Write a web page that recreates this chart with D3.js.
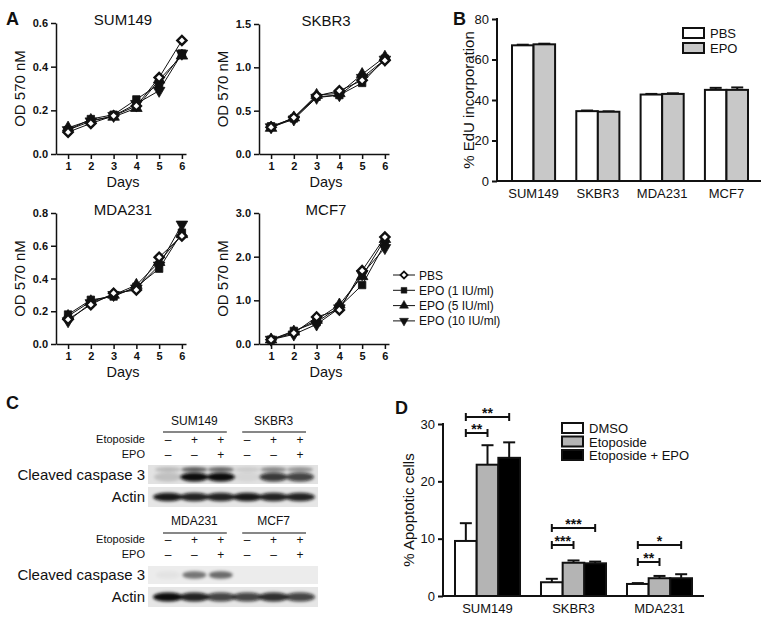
<!DOCTYPE html>
<html><head><meta charset="utf-8">
<script src="https://cdn.jsdelivr.net/npm/d3@7"></script>
<style>body{margin:0;background:#fff} svg{display:block} text{font-family:"Liberation Sans",Arial,Helvetica,sans-serif;fill:#111}</style>
</head><body><svg id="c" width="777" height="622"></svg>
<script>
// ---------- DATA ----------
const days = [1, 2, 3, 4, 5, 6];
const seriesNames = ["PBS", "EPO (1 IU/ml)", "EPO (5 IU/ml)", "EPO (10 IU/ml)"];
// Panel A: OD 570 nM per day, order = PBS, EPO1, EPO5, EPO10
const sum149 = [[0.10,0.14,0.175,0.22,0.35,0.52],[0.11,0.16,0.18,0.25,0.32,0.46],[0.12,0.155,0.17,0.21,0.34,0.45],[0.11,0.15,0.175,0.23,0.29,0.46]];
const skbr3  = [[0.31,0.42,0.67,0.73,0.85,1.08],[0.32,0.41,0.66,0.68,0.82,1.10],[0.30,0.42,0.68,0.70,0.92,1.12],[0.31,0.40,0.65,0.68,0.88,1.09]];
const mda231 = [[0.15,0.24,0.31,0.33,0.53,0.66],[0.18,0.27,0.29,0.35,0.46,0.68],[0.17,0.26,0.30,0.36,0.50,0.67],[0.14,0.25,0.30,0.34,0.48,0.73]];
const mcf7   = [[0.10,0.25,0.62,0.78,1.68,2.45],[0.10,0.30,0.50,0.85,1.35,2.30],[0.10,0.28,0.55,0.90,1.55,2.40],[0.10,0.22,0.45,0.82,1.60,2.20]];
const sum149Ticks = [0.0, 0.2, 0.4, 0.6];
const skbr3Ticks = [0.0, 0.5, 1.0, 1.5];
const mda231Ticks = [0.0, 0.2, 0.4, 0.6, 0.8];
const mcf7Ticks = [0.0, 1.0, 2.0, 3.0];

// Panel B: % EdU incorporation
const cellLinesB = ["SUM149", "SKBR3", "MDA231", "MCF7"];
const edu_PBS = [67.0, 34.5, 42.7, 45.0];
const edu_EPO = [67.5, 34.2, 43.0, 45.0];
const edu_PBS_err = [0.3, 0.3, 0.3, 1.0];
const edu_EPO_err = [0.3, 0.2, 0.3, 1.2];
const eduTicks = [0, 20, 40, 60, 80];

// Panel C: western blot
const blotTop = ["SUM149", "SKBR3"];
const blotBottom = ["MDA231", "MCF7"];
const etoposideRow = ["–", "+", "+", "–", "+", "+"];
const epoRow = ["–", "–", "+", "–", "–", "+"];
const casp1_main = [0.15, 1.0, 1.0, 0.06, 0.8, 0.75];
const casp1_upper = [0.18, 0.6, 0.55, 0.1, 0.4, 0.35];
const actin1 = [0.95, 0.9, 0.9, 0.95, 0.9, 0.9];
const casp2_main = [0.04, 0.5, 0.55, 0.0, 0.0, 0.0];
const actin2 = [1.0, 0.9, 0.75, 0.75, 0.85, 0.75];

// Panel D: % apoptotic cells
const cellLinesD = ["SUM149", "SKBR3", "MDA231"];
const treatD = ["DMSO", "Etoposide", "Etoposide + EPO"];
const apo_DMSO = [9.6, 2.4, 2.1];
const apo_Eto = [22.9, 5.8, 3.1];
const apo_EtoEPO = [24.1, 5.7, 3.1];
const apo_DMSO_err = [3.1, 0.6, 0.15];
const apo_Eto_err = [3.4, 0.4, 0.4];
const apo_EtoEPO_err = [2.7, 0.3, 0.7];
const apoTicks = [0, 10, 20, 30];
// significance: [group, fromBar, toBar, label, level]
const sigs = [[0,0,2,"**",1],[0,0,1,"**",0],[1,0,2,"***",1],[1,0,1,"***",0],[2,0,2,"*",1],[2,0,1,"**",0]];

// ---------- DRAW ----------
const svg = d3.select("#c");
const FONT = '"Liberation Sans",Arial,Helvetica,sans-serif';

function letter(t, x, y) {
  svg.append("text").attr("x", x).attr("y", y).attr("font-size", 18).attr("font-weight", "bold").text(t);
}
letter("A", 6, 25); letter("B", 453, 25); letter("C", 6, 409); letter("D", 395, 414);

const symbolTypes = [d3.symbolSquare, d3.symbolSquare, d3.symbolTriangle, d3.symbolTriangle];
const symbolRot = [45, 0, 0, 180];
const symbolSize = [42, 55, 58, 58];

function linePanel(title, data, ticks, yMax, ax, top, bottom) {
  const g = svg.append("g");
  const x = d3.scaleLinear().domain([0.47, 6.18]).range([ax, ax + 130]);
  const y = d3.scaleLinear().domain([0, yMax]).range([bottom, top]);
  const fmt = d3.format(".1f");
  const ya = g.append("g").attr("transform", `translate(${ax},0)`)
    .call(d3.axisLeft(y).tickValues(ticks).tickSize(5).tickSizeOuter(0).tickFormat(fmt));
  const xa = g.append("g").attr("transform", `translate(0,${bottom})`)
    .call(d3.axisBottom(x).tickValues(days).tickSize(5).tickSizeOuter(0).tickFormat(d3.format("d")));
  [ya, xa].forEach(a => {
    a.selectAll("path,line").attr("stroke", "#111").attr("stroke-width", 1.5);
    a.selectAll("text").attr("font-size", 11).attr("font-weight", "bold").attr("font-family", FONT).attr("fill", "#111");
  });
  xa.selectAll("text").attr("dy", "0.75em");
  const line = d3.line().x((d, i) => x(days[i])).y(d => y(d));
  data.forEach((s, k) => {
    g.append("path").attr("d", line(s)).attr("fill", "none").attr("stroke", "#111").attr("stroke-width", 1);
  });
  [1, 2, 3, 0].forEach(k => {
    const s = data[k];
    g.selectAll(null).data(s).enter().append("path")
      .attr("d", d3.symbol().type(symbolTypes[k]).size(symbolSize[k]))
      .attr("transform", (d, i) => `translate(${x(days[i])},${y(d)}) rotate(${symbolRot[k]})`)
      .attr("fill", k === 0 ? "#fff" : "#111").attr("stroke", "#111").attr("stroke-width", k === 0 ? 2.4 : 0.8);
  });
  g.append("text").attr("x", ax + 67).attr("y", top + 2).attr("text-anchor", "middle").attr("font-size", 15).text(title);
  g.append("text").attr("x", ax + 67).attr("y", bottom + 33).attr("text-anchor", "middle").attr("font-size", 14.5).text("Days");
  g.append("text").attr("transform", `translate(${ax - 31},${(top + bottom) / 2}) rotate(-90)`)
    .attr("text-anchor", "middle").attr("font-size", 15).text("OD 570 nM");
}
linePanel("SUM149", sum149, sum149Ticks, 0.6, 56, 23, 154);
linePanel("SKBR3", skbr3, skbr3Ticks, 1.5, 259, 24, 154);
linePanel("MDA231", mda231, mda231Ticks, 0.8, 56, 213, 344);
linePanel("MCF7", mcf7, mcf7Ticks, 3.0, 259, 213, 344);

// Panel A legend
seriesNames.forEach((n, k) => {
  const yy = 275 + k * 15.3;
  svg.append("line").attr("x1", 393).attr("x2", 415).attr("y1", yy).attr("y2", yy).attr("stroke", "#111").attr("stroke-width", 1);
  svg.append("path").attr("d", d3.symbol().type(symbolTypes[k]).size(symbolSize[k] * 0.6)())
    .attr("transform", `translate(404,${yy}) rotate(${symbolRot[k]})`)
    .attr("fill", k === 0 ? "#fff" : "#111").attr("stroke", "#111").attr("stroke-width", k === 0 ? 1.8 : 0.5);
  svg.append("text").attr("x", 419).attr("y", yy + 4.5).attr("font-size", 12).text(n);
});

// Generic bar panel
function barPanel(opts) {
  const g = svg.append("g");
  const y = d3.scaleLinear().domain([0, opts.yMax]).range([opts.bottom, opts.top]);
  const x0 = d3.scaleBand().domain(opts.cats).range(opts.range).paddingInner(opts.pin).paddingOuter(0);
  const x1 = d3.scaleBand().domain(d3.range(opts.series.length)).range([0, x0.bandwidth()]);
  opts.series.forEach((vals, s) => {
    vals.forEach((v, i) => {
      const bx = x0(opts.cats[i]) + x1(s), bw = x1.bandwidth();
      const e = opts.errs[s][i];
      const cx = bx + bw / 2;
      g.append("line").attr("x1", cx).attr("x2", cx).attr("y1", y(v)).attr("y2", y(v + e)).attr("stroke", "#111").attr("stroke-width", 2);
      g.append("line").attr("x1", cx - 6).attr("x2", cx + 6).attr("y1", y(v + e)).attr("y2", y(v + e)).attr("stroke", "#111").attr("stroke-width", 2);
      g.append("rect").attr("x", bx).attr("y", y(v)).attr("width", bw).attr("height", y(0) - y(v))
        .attr("fill", opts.fills[s]).attr("stroke", "#111").attr("stroke-width", 2);
    });
  });
  const ya = g.append("g").attr("transform", `translate(${opts.ax},0)`)
    .call(d3.axisLeft(y).tickValues(opts.ticks).tickSize(5).tickSizeOuter(0));
  ya.selectAll("path,line").attr("stroke", "#111").attr("stroke-width", 2);
  ya.selectAll("text").attr("font-size", 13).attr("font-family", FONT).attr("fill", "#111");
  ya.select("path").attr("d", `M0,${opts.top - 1}V${opts.bottom + 1}`);
  g.append("line").attr("x1", opts.ax - 1).attr("x2", opts.axEnd).attr("y1", opts.bottom).attr("y2", opts.bottom).attr("stroke", "#111").attr("stroke-width", 2);
  opts.cats.forEach(c => {
    g.append("text").attr("x", x0(c) + x0.bandwidth() / 2).attr("y", opts.bottom + 17).attr("text-anchor", "middle").attr("font-size", 13).text(c);
  });
  g.append("text").attr("transform", `translate(${opts.ax - opts.ylOff},${(opts.top + opts.bottom) / 2}) rotate(-90)`)
    .attr("text-anchor", "middle").attr("font-size", 15).text(opts.ylabel);
  opts.legend.forEach((n, s) => {
    const yy = opts.legY + s * opts.legStep;
    g.append("rect").attr("x", opts.legX).attr("y", yy - 5).attr("width", 21).attr("height", 10)
      .attr("fill", opts.fills[s]).attr("stroke", "#111").attr("stroke-width", 2);
    g.append("text").attr("x", opts.legX + 27).attr("y", yy + 5).attr("font-size", 13).text(n);
  });
  return {x0, x1, y, g};
}

barPanel({
  cats: cellLinesB, series: [edu_PBS, edu_EPO], errs: [edu_PBS_err, edu_EPO_err], fills: ["#fff", "#c8c8c8"],
  yMax: 80, ticks: eduTicks, top: 19, bottom: 181, ax: 497, axEnd: 761, range: [512, 748], pin: 0.33, ylOff: 23,
  ylabel: "% EdU incorporation", legend: ["PBS", "EPO"], legX: 683, legY: 33, legStep: 15
});

const D = barPanel({
  cats: cellLinesD, series: [apo_DMSO, apo_Eto, apo_EtoEPO], errs: [apo_DMSO_err, apo_Eto_err, apo_EtoEPO_err], fills: ["#fff", "#b4b4b4", "#000"],
  yMax: 30, ticks: apoTicks, top: 424, bottom: 596, ax: 443, axEnd: 704, range: [455, 692], pin: 0.244, ylOff: 29,
  ylabel: "% Apoptotic cells", legend: treatD, legX: 562, legY: 428, legStep: 13.5
});
// significance brackets
const sigY = [[433, 417], [545, 528], [562, 545]];
sigs.forEach(([gi, a, b, lab, lvl]) => {
  const c = cellLinesD[gi];
  const xa = D.x0(c) + D.x1(a) + D.x1.bandwidth() / 2;
  const xb = D.x0(c) + D.x1(b) + D.x1.bandwidth() / 2;
  const yy = sigY[gi][lvl];
  const s = D.g.append("g").attr("stroke", "#111").attr("stroke-width", 2);
  s.append("line").attr("x1", xa).attr("x2", xb).attr("y1", yy).attr("y2", yy);
  s.append("line").attr("x1", xa).attr("x2", xa).attr("y1", yy - 4).attr("y2", yy + 4);
  s.append("line").attr("x1", xb).attr("x2", xb).attr("y1", yy - 4).attr("y2", yy + 4);
  D.g.append("text").attr("x", (xa + xb) / 2).attr("y", yy + 1).attr("text-anchor", "middle").attr("font-size", 14).attr("font-weight", "bold").text(lab);
});

// Panel C: western blots
const defs = svg.append("defs");
defs.append("filter").attr("id", "blur").attr("x", "-50%").attr("y", "-100%").attr("width", "200%").attr("height", "300%")
  .append("feGaussianBlur").attr("stdDeviation", 1.8);
const lane = d3.scalePoint().domain(d3.range(6)).range([168, 300]);

function header(names, yName, yLine, yEt, yEpo) {
  names.forEach((n, gi) => {
    const l0 = lane(gi * 3), l2 = lane(gi * 3 + 2);
    svg.append("text").attr("x", (l0 + l2) / 2).attr("y", yName).attr("text-anchor", "middle").attr("font-size", 12).text(n);
    svg.append("line").attr("x1", l0 - 5).attr("x2", l2 + 6).attr("y1", yLine).attr("y2", yLine).attr("stroke", "#111").attr("stroke-width", 1.2);
  });
  svg.append("text").attr("x", 145).attr("y", yEt).attr("text-anchor", "end").attr("font-size", 11).text("Etoposide");
  svg.append("text").attr("x", 145).attr("y", yEpo).attr("text-anchor", "end").attr("font-size", 11).text("EPO");
  etoposideRow.forEach((t, i) => svg.append("text").attr("x", lane(i)).attr("y", yEt + 0.5).attr("text-anchor", "middle").attr("font-size", 12).text(t));
  epoRow.forEach((t, i) => svg.append("text").attr("x", lane(i)).attr("y", yEpo + 1).attr("text-anchor", "middle").attr("font-size", 12).text(t));
}
function blot(y0, h, bg, bands, label) {
  svg.append("rect").attr("x", 148).attr("y", y0).attr("width", 170).attr("height", h).attr("fill", bg);
  const clip = "clip" + y0;
  defs.append("clipPath").attr("id", clip).append("rect").attr("x", 148).attr("y", y0).attr("width", 170).attr("height", h);
  const g = svg.append("g").attr("clip-path", `url(#${clip})`);
  bands.forEach(([vals, cy, ry, rx]) => {
    g.append("g").attr("filter", "url(#blur)").selectAll("ellipse").data(vals).enter().append("ellipse")
      .attr("cx", (d, i) => lane(i)).attr("cy", cy).attr("rx", rx).attr("ry", ry)
      .attr("fill", "#0a0a0a").attr("opacity", d => d);
  });
  svg.append("text").attr("x", 145).attr("y", y0 + h / 2 + 5).attr("text-anchor", "end").attr("font-size", 15).text(label);
}
header(blotTop, 425, 432, 443, 458);
blot(465, 19, "#e2e2e2", [[casp1_upper, 469.5, 2.5, 13], [casp1_main, 477, 4.5, 14]], "Cleaved caspase 3");
blot(487, 20, "#e6e6e6", [[actin1, 497, 4.2, 15]], "Actin");
header(blotBottom, 525, 533, 543, 558);
blot(566, 18, "#ececec", [[casp2_main, 575, 3.8, 12]], "Cleaved caspase 3");
blot(587, 20, "#e6e6e6", [[actin2, 597, 4.5, 15]], "Actin");
</script></body></html>
